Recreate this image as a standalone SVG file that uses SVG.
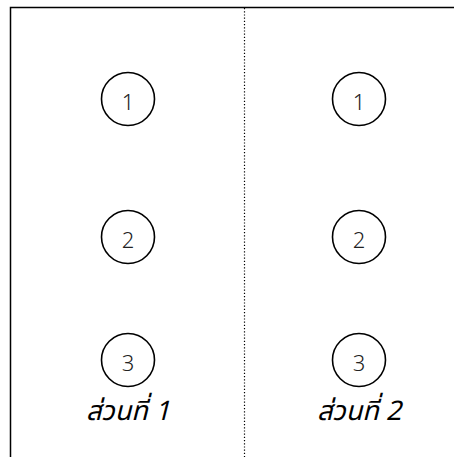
<svg xmlns="http://www.w3.org/2000/svg" width="454" height="457" viewBox="0 0 454 457">
<style>
.frame{fill:none;stroke:#000;stroke-width:1.5}
.div{stroke:#000;stroke-width:1.2;stroke-dasharray:1.2 2}
.c{fill:#fff;stroke:#000;stroke-width:1.6}
.n{font-family:"Noto Sans","DejaVu Sans",sans-serif;font-size:22px;font-weight:300;fill:#222;text-anchor:middle}
.lbl{font-family:"Noto Sans Thai","Noto Sans","DejaVu Sans",sans-serif;font-size:27px;font-style:italic;font-weight:400;fill:#000;text-anchor:middle}
</style>
<rect width="454" height="457" fill="#fff"/>
<g id="frame">
<path class="frame" d="M10.5,457 V7.5 H454"/>
</g>
<g id="connectors">
<line class="div" x1="244.5" y1="8" x2="244.5" y2="457"/>
</g>
<g id="n1a"><circle class="c" cx="128" cy="99" r="26.5"/><text class="n" x="128" y="110">1</text></g>
<g id="n2a"><circle class="c" cx="128" cy="237" r="26.5"/><text class="n" x="128" y="248">2</text></g>
<g id="n3a"><circle class="c" cx="128" cy="360" r="26.5"/><text class="n" x="128" y="371">3</text></g>
<g id="n1b"><circle class="c" cx="359" cy="99" r="26.5"/><text class="n" x="359" y="110">1</text></g>
<g id="n2b"><circle class="c" cx="359" cy="237" r="26.5"/><text class="n" x="359" y="248">2</text></g>
<g id="n3b"><circle class="c" cx="359" cy="360" r="26.5"/><text class="n" x="359" y="371">3</text></g>
<g id="label1"><text class="lbl" x="128" y="420">ส่วนที่ 1</text></g>
<g id="label2"><text class="lbl" x="359" y="420">ส่วนที่ 2</text></g>
</svg>
